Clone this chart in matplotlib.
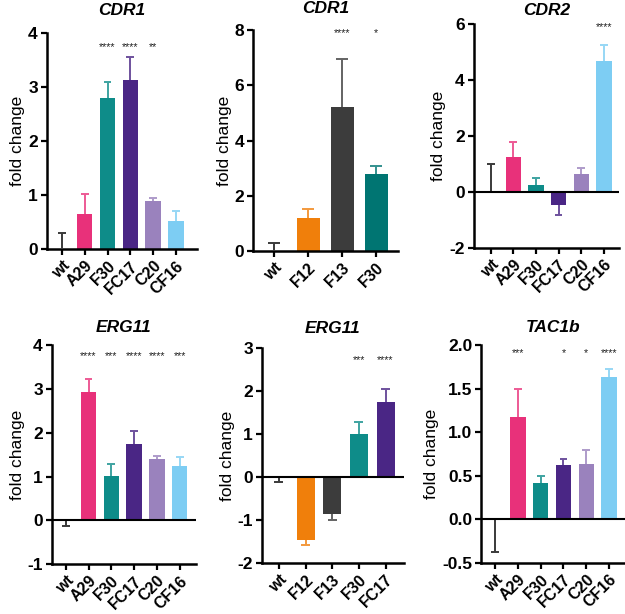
import numpy as np
import matplotlib
matplotlib.use("Agg")
import matplotlib.pyplot as plt
from matplotlib.colors import to_rgb

plt.rcParams['font.family'] = ['Liberation Sans', 'DejaVu Sans']

# colours per strain
col = {'wt': '#000000', 'A29': '#E8317A', 'F30': '#0E8C89', 'F30b': '#007572',
       'FC17': '#4A2685', 'C20': '#9A82BD', 'CF16': '#7DCDF3',
       'F12': '#F07F0B', 'F13': '#3C3C3C'}

# panel data: value, top of error bar (cap position), star text
cdr1_a_labels = ['wt', 'A29', 'F30', 'FC17', 'C20', 'CF16']
cdr1_a_vals = [0, 0.66, 2.80, 3.13, 0.90, 0.52]
cdr1_a_caps = [0.30, 1.02, 3.09, 3.56, 0.95, 0.71]
cdr1_a_stars = ['', '', '****', '****', '**', '']

cdr1_b_labels = ['wt', 'F12', 'F13', 'F30']
cdr1_b_vals = [0, 1.21, 5.22, 2.80]
cdr1_b_caps = [0.29, 1.53, 6.94, 3.09]
cdr1_b_stars = ['', '', '****', '*']

cdr2_labels = ['wt', 'A29', 'F30', 'FC17', 'C20', 'CF16']
cdr2_vals = [0, 1.26, 0.26, -0.46, 0.66, 4.68]
cdr2_caps = [1.0, 1.78, 0.49, -0.82, 0.86, 5.24]
cdr2_stars = ['', '', '', '', '', '****']

erg11_a_labels = ['wt', 'A29', 'F30', 'FC17', 'C20', 'CF16']
erg11_a_vals = [0, 2.94, 1.01, 1.74, 1.39, 1.24]
erg11_a_caps = [-0.12, 3.22, 1.29, 2.05, 1.48, 1.44]
erg11_a_stars = ['', '****', '***', '****', '****', '***']

erg11_b_labels = ['wt', 'F12', 'F13', 'F30', 'FC17']
erg11_b_vals = [0, -1.47, -0.87, 1.01, 1.74]
erg11_b_caps = [-0.12, -1.58, -0.99, 1.29, 2.05]
erg11_b_stars = ['', '', '', '***', '****']

tac1b_labels = ['wt', 'A29', 'F30', 'FC17', 'C20', 'CF16']
tac1b_vals = [0, 1.18, 0.415, 0.63, 0.64, 1.63]
tac1b_caps = [-0.37, 1.50, 0.50, 0.69, 0.80, 1.72]
tac1b_stars = ['', '***', '', '*', '*', '****']

BAR_W = 0.68


def lighten(c, f=0.2):
    r, g, b = to_rgb(c)
    return (r + (1 - r) * f, g + (1 - g) * f, b + (1 - b) * f)


def panel(rect, title, labels, vals, caps, stars, colors, ylim, yticks, ytl, xlim,
          star_y, tpad):
    ax = fig.add_axes(rect)
    x = np.arange(len(labels))
    ax.bar(x, vals, width=BAR_W, color=colors, zorder=2)
    # one-sided error bars: stem from bar end to cap, cap only at the far end
    for xi, v, c, cl in zip(x, vals, caps, colors):
        ecol = '#3a3a3a' if cl == '#000000' else lighten(cl, 0.2)
        ax.vlines(xi, v, c, color=ecol, lw=1.4, zorder=3)
        ax.hlines(c, xi - BAR_W * 0.25, xi + BAR_W * 0.25, color=ecol, lw=1.4, zorder=3)
    for xi, s in zip(x, stars):
        if s:
            ax.text(xi, star_y, s, ha='center', va='center', fontsize=7.8,
                    color='#222222')
    ax.set_ylim(*ylim)
    ax.set_xlim(*xlim)
    ax.set_yticks(yticks)
    ax.set_yticklabels(ytl, fontsize=12.5, fontweight='bold')
    ax.set_xticks(x)
    ax.set_xticklabels(labels, rotation=45, ha='right', rotation_mode='anchor',
                       fontsize=11.5, fontweight='bold')
    ax.spines['top'].set_visible(False)
    ax.spines['right'].set_visible(False)
    for sp in ['left', 'bottom']:
        ax.spines[sp].set_linewidth(1.8)
    ax.tick_params(axis='both', width=1.6, length=4.5, pad=2)
    if ylim[0] < 0:
        ax.axhline(0, color='black', lw=1.5, zorder=4)
    ax.set_ylabel('fold change', fontsize=12.5, labelpad=2)
    ax.set_title(title, fontsize=12.5, fontweight='bold', style='italic', pad=tpad)
    return ax


fig = plt.figure(figsize=(6.25, 6.14), dpi=100)

panel([0.075, 0.594, 0.240, 0.352], 'CDR1', cdr1_a_labels, cdr1_a_vals, cdr1_a_caps,
      cdr1_a_stars, [col[l] for l in cdr1_a_labels], (0, 4), [0, 1, 2, 3, 4],
      ['0', '1', '2', '3', '4'], (-0.66, 5.92), 3.74, 13)

panel([0.405, 0.591, 0.232, 0.360], 'CDR1', cdr1_b_labels, cdr1_b_vals, cdr1_b_caps,
      cdr1_b_stars, [col['wt'], col['F12'], col['F13'], col['F30b']], (0, 8),
      [0, 2, 4, 6, 8], ['0', '2', '4', '6', '8'], (-0.62, 3.65), 7.9, 12)

panel([0.758, 0.596, 0.232, 0.365], 'CDR2', cdr2_labels, cdr2_vals, cdr2_caps,
      cdr2_stars, [col[l] for l in cdr2_labels], (-2, 6), [-2, 0, 2, 4, 6],
      ['-2', '0', '2', '4', '6'], (-0.75, 5.66), 5.9, 6.5)

panel([0.083, 0.081, 0.230, 0.357], 'ERG11', erg11_a_labels, erg11_a_vals, erg11_a_caps,
      erg11_a_stars, [col[l] for l in erg11_a_labels], (-1, 4), [-1, 0, 1, 2, 3, 4],
      ['-1', '0', '1', '2', '3', '4'], (-0.61, 5.7), 3.75, 9.5)

panel([0.419, 0.083, 0.227, 0.350], 'ERG11', erg11_b_labels, erg11_b_vals, erg11_b_caps,
      erg11_b_stars, [col['wt'], col['F12'], col['F13'], col['F30'], col['FC17']],
      (-2, 3), [-2, -1, 0, 1, 2, 3], ['-2', '-1', '0', '1', '2', '3'], (-0.64, 4.68),
      2.72, 11)

panel([0.770, 0.083, 0.230, 0.355], 'TAC1b', tac1b_labels, tac1b_vals, tac1b_caps,
      tac1b_stars, [col[l] for l in tac1b_labels], (-0.5, 2.0),
      [-0.5, 0, 0.5, 1.0, 1.5, 2.0], ['-0.5', '0.0', '0.5', '1.0', '1.5', '2.0'],
      (-0.61, 5.7), 1.91, 9.5)

fig.savefig('out.png', dpi=100)
